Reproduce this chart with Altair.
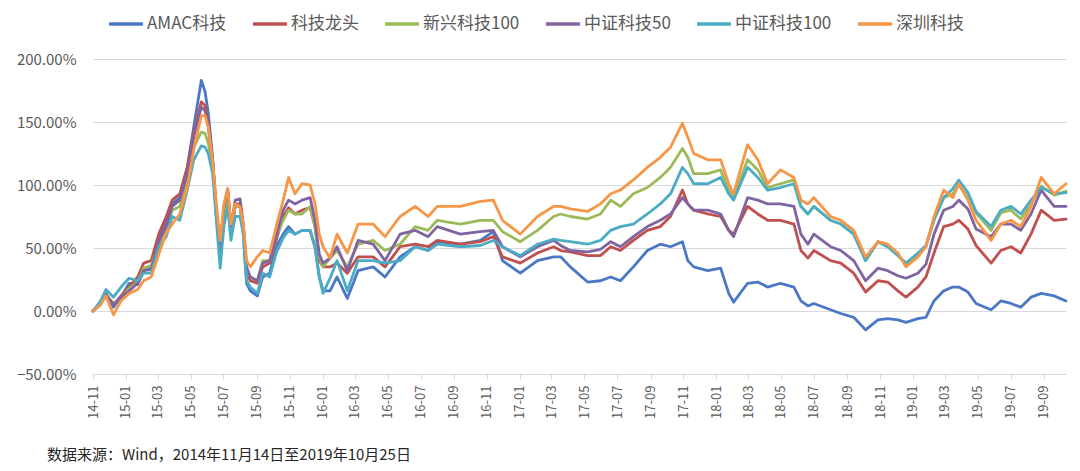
import altair as alt
import pandas as pd

series_names = ["AMAC科技", "科技龙头", "新兴科技100", "中证科技50", "中证科技100", "深圳科技"]
series_colors = ["#4A78C6", "#C0504D", "#9BBB59", "#8064A2", "#4BACC6", "#F79646"]

dates = [
    "2014-11-14", "2014-11-28", "2014-12-08", "2014-12-22", "2015-01-05", "2015-01-20",
    "2015-02-05", "2015-02-16", "2015-03-02", "2015-03-16", "2015-03-30", "2015-04-10",
    "2015-04-24", "2015-05-08", "2015-05-20", "2015-06-03", "2015-06-10", "2015-06-16",
    "2015-06-24", "2015-07-01", "2015-07-08", "2015-07-15", "2015-07-22", "2015-07-28",
    "2015-08-05", "2015-08-14", "2015-08-20", "2015-08-26", "2015-09-02", "2015-09-15",
    "2015-09-25", "2015-10-08", "2015-10-20", "2015-11-02", "2015-11-12", "2015-11-24",
    "2015-12-07", "2015-12-22", "2015-12-31", "2016-01-08", "2016-01-15", "2016-01-28",
    "2016-02-10", "2016-02-29", "2016-03-20", "2016-04-17", "2016-05-09", "2016-06-06",
    "2016-07-04", "2016-07-28", "2016-08-14", "2016-09-26", "2016-11-02", "2016-11-26",
    "2016-12-13", "2017-01-15", "2017-02-16", "2017-03-18", "2017-03-31", "2017-04-18",
    "2017-05-20", "2017-06-13", "2017-07-02", "2017-07-20", "2017-08-13", "2017-09-08",
    "2017-10-02", "2017-10-21", "2017-11-12", "2017-11-22", "2017-12-03", "2017-12-29",
    "2018-01-22", "2018-02-06", "2018-02-15", "2018-03-13", "2018-04-01", "2018-04-19",
    "2018-05-13", "2018-06-07", "2018-06-20", "2018-07-03", "2018-07-14", "2018-08-14",
    "2018-09-02", "2018-09-26", "2018-10-18", "2018-11-10", "2018-11-28", "2018-12-17",
    "2019-01-01", "2019-01-23", "2019-02-07", "2019-02-22", "2019-03-12", "2019-03-29",
    "2019-04-09", "2019-04-26", "2019-05-11", "2019-06-08", "2019-06-26", "2019-07-15",
    "2019-08-02", "2019-08-21", "2019-09-09", "2019-10-03", "2019-10-25",
]

# cumulative returns, percent
amac = [
    0, 5, 14, 3, 11, 22, 21, 32, 34, 56, 72, 85, 90, 114, 146, 183, 174, 157,
    122, 75, 43, 75, 93, 59, 83, 83, 61, 22, 16, 12, 27, 30, 51, 61, 67, 61,
    64, 64, 51, 27, 16, 16, 27, 10, 32, 35, 27, 43, 51, 48, 55, 53, 56, 63,
    40, 30, 40, 43, 43, 35, 23, 24, 27, 24, 35, 48, 53, 51, 55, 40, 35, 32,
    34, 14, 7, 22, 23, 19, 22, 19, 8, 4, 6, 1, -2, -5, -15, -7, -6, -7,
    -9, -6, -5, 8, 16, 19, 19, 15, 6, 1, 8, 6, 3, 11, 14, 12, 8,
]
longtou = [
    0, 6, 13, 5, 12, 19, 27, 38, 40, 61, 75, 88, 93, 114, 141, 166, 163, 149,
    119, 77, 46, 80, 96, 64, 85, 85, 67, 30, 24, 22, 35, 38, 56, 75, 82, 77,
    80, 82, 67, 40, 35, 35, 38, 30, 43, 43, 35, 51, 53, 51, 56, 53, 55, 59,
    43, 38, 46, 51, 48, 47, 44, 44, 51, 48, 56, 64, 67, 75, 96, 85, 80, 77,
    75, 64, 61, 83, 77, 72, 72, 69, 48, 42, 48, 40, 38, 30, 15, 24, 23, 16,
    11, 19, 27, 46, 67, 69, 72, 65, 52, 38, 48, 51, 46, 61, 80, 72, 73,
]
xinxing100 = [
    0, 5, 13, 6, 10, 18, 23, 34, 36, 53, 67, 80, 83, 104, 130, 142, 141, 133,
    117, 77, 48, 77, 93, 64, 83, 83, 67, 32, 27, 24, 40, 40, 59, 72, 80, 77,
    77, 83, 67, 43, 35, 42, 48, 35, 53, 56, 48, 53, 67, 64, 72, 69, 72, 72,
    63, 55, 64, 75, 77, 75, 73, 77, 88, 83, 93, 98, 106, 114, 129, 122, 109, 109,
    112, 96, 90, 120, 112, 98, 101, 104, 83, 77, 83, 72, 69, 61, 40, 55, 51, 44,
    37, 45, 51, 73, 90, 93, 100, 90, 78, 64, 78, 80, 73, 85, 99, 92, 95,
]
zz50 = [
    0, 6, 13, 5, 11, 16, 22, 32, 33, 55, 67, 83, 88, 109, 138, 162, 159, 146,
    120, 80, 48, 83, 97, 67, 88, 89, 69, 35, 27, 24, 38, 40, 59, 80, 88, 85,
    88, 90, 72, 45, 38, 42, 51, 32, 56, 53, 40, 61, 64, 59, 67, 61, 63, 64,
    51, 43, 51, 56, 52, 48, 47, 49, 55, 51, 59, 67, 72, 77, 90, 85, 80, 80,
    77, 64, 59, 90, 88, 85, 85, 83, 61, 53, 61, 51, 48, 40, 24, 34, 32, 28,
    26, 30, 37, 61, 80, 83, 88, 81, 65, 59, 69, 69, 64, 77, 96, 83, 83,
]
zz100 = [
    0, 8, 17, 11, 19, 26, 24, 30, 30, 51, 59, 75, 72, 96, 120, 131, 130, 125,
    109, 72, 34, 67, 83, 56, 75, 75, 61, 24, 19, 14, 30, 27, 46, 58, 64, 61,
    64, 64, 51, 27, 14, 26, 40, 16, 40, 40, 38, 40, 51, 48, 53, 51, 52, 56,
    51, 44, 53, 57, 56, 55, 53, 56, 64, 67, 69, 77, 85, 93, 114, 109, 101, 101,
    106, 93, 88, 114, 106, 96, 98, 101, 83, 77, 83, 72, 69, 61, 40, 55, 51, 44,
    38, 46, 52, 72, 90, 97, 104, 94, 79, 67, 80, 83, 77, 88, 98, 93, 94,
]
shenzhen = [
    0, 5, 12, -3, 8, 14, 17, 24, 27, 45, 62, 69, 77, 98, 128, 155, 155, 146,
    119, 85, 56, 85, 97, 69, 85, 83, 69, 40, 35, 43, 48, 46, 67, 88, 106, 93,
    101, 100, 85, 61, 51, 42, 61, 46, 69, 69, 59, 75, 83, 75, 83, 83, 87, 88,
    72, 61, 75, 83, 83, 81, 79, 85, 93, 96, 104, 114, 122, 130, 149, 138, 125, 120,
    120, 101, 93, 132, 120, 101, 112, 106, 88, 85, 90, 75, 72, 64, 43, 55, 53, 46,
    35, 43, 51, 75, 96, 90, 101, 88, 72, 56, 69, 72, 67, 83, 106, 93, 101,
]

tick_months = [
    (2014, 11), (2015, 1), (2015, 3), (2015, 5), (2015, 7), (2015, 9), (2015, 11),
    (2016, 1), (2016, 3), (2016, 5), (2016, 7), (2016, 9), (2016, 11),
    (2017, 1), (2017, 3), (2017, 5), (2017, 7), (2017, 9), (2017, 11),
    (2018, 1), (2018, 3), (2018, 5), (2018, 7), (2018, 9), (2018, 11),
    (2019, 1), (2019, 3), (2019, 5), (2019, 7), (2019, 9),
]
y_ticks = [-0.5, 0.0, 0.5, 1.0, 1.5, 2.0]
source_note = "数据来源：Wind，2014年11月14日至2019年10月25日"

columns = [amac, longtou, xinxing100, zz50, zz100, shenzhen]
rows = []
for name, vals in zip(series_names, columns):
    for d, v in zip(dates, vals):
        rows.append({"date": d, "series": name, "value": v / 100.0})
df = pd.DataFrame(rows)

cjk = "Noto Sans CJK SC"

lines = alt.Chart(df).mark_line(strokeWidth=2.8, strokeJoin="round", strokeCap="round").encode(
    x=alt.X(
        "date:T",
        title=None,
        scale=alt.Scale(
            domain=[alt.DateTime(year=2014, month=11, date=14), alt.DateTime(year=2019, month=10, date=25)],
            nice=False,
        ),
        axis=alt.Axis(
            values=[alt.DateTime(year=y, month=m, date=14) for y, m in tick_months],
            format="%y-%m",
            labelAngle=270,
            labelFont=cjk,
            labelFontSize=13,
            labelColor="#595959",
            labelPadding=6,
            tickColor="#D9D9D9",
            tickSize=5,
            domainColor="#D9D9D9",
            grid=False,
            labelOverlap=False,
        ),
    ),
    y=alt.Y(
        "value:Q",
        title=None,
        scale=alt.Scale(domain=[-0.5, 2.0], nice=False, zero=False),
        axis=alt.Axis(
            values=y_ticks,
            format=".2%",
            labelFont=cjk,
            labelFontSize=15,
            labelColor="#595959",
            labelPadding=17,
            ticks=False,
            domain=False,
            grid=True,
            gridColor="#D9D9D9",
            gridWidth=1,
        ),
    ),
    color=alt.Color(
        "series:N",
        sort=series_names,
        scale=alt.Scale(domain=series_names, range=series_colors),
        legend=alt.Legend(
            title=None,
            orient="none",
            legendX=14,
            legendY=-54,
            direction="horizontal",
            columns=6,
            symbolType="stroke",
            symbolSize=1150,
            symbolStrokeWidth=3.5,
            labelFont=cjk,
            labelFontSize=17,
            labelColor="#595959",
            labelOffset=2,
            columnPadding=19,
        ),
    ),
)

note = alt.Chart(pd.DataFrame({"t": [source_note]})).mark_text(
    align="left", baseline="middle", font=cjk, fontSize=15, color="#262626"
).encode(x=alt.value(-46), y=alt.value(396), text="t:N")

chart = alt.layer(lines, note).properties(
    width=973,
    height=315,
    padding={"left": 85, "top": 51, "right": 6, "bottom": 96},
    autosize=alt.AutoSizeParams(type="none"),
).configure_view(stroke=None)

chart.save("out.html", embed_options={"renderer": "svg", "actions": False})
